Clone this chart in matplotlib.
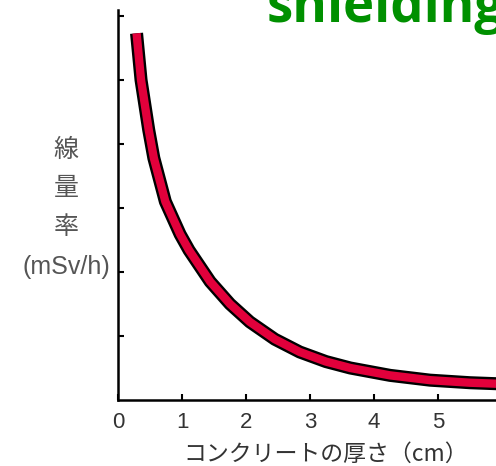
import matplotlib
matplotlib.use("Agg")
import matplotlib.pyplot as plt

plt.rcParams['font.family'] = ['Liberation Sans', 'Noto Sans CJK JP', 'DejaVu Sans']

# curve (thickness in cm, dose rate in tick units)
thickness = [0.29, 0.36, 0.48, 0.56, 0.74, 0.97, 1.11, 1.44, 1.75, 2.06, 2.45,
             2.84, 3.25, 3.63, 4.25, 4.875, 5.5, 6.3]
dose_rate = [5.73, 5.00, 4.22, 3.78, 3.10, 2.59, 2.34, 1.85, 1.50, 1.22, 0.95,
             0.75, 0.60, 0.50, 0.385, 0.31, 0.27, 0.24]

x_ticks = [0, 1, 2, 3, 4, 5, 6]
y_ticks = [1, 2, 3, 4, 5, 6]
ylabel_lines = ["線", "量", "率", "(mSv/h)"]
ylabel_y = [150, 188, 227, 267]   # pixel rows of each label line

W, H = 496, 466
fig = plt.figure(figsize=(W / 100, H / 100), dpi=100)

# axes run past the right edge of the figure, like the cropped original
left, bottom, right, top = 118, 66, 522, 456
ax = fig.add_axes([left / W, bottom / H, (right - left) / W, (top - bottom) / H])
ax.set_xlim(0, (right - left) / 64)
ax.set_ylim(0, (top - bottom) / 64)

# thick red line with black outline
ax.plot(thickness, dose_rate, color="black", lw=9.4, solid_capstyle="butt",
        solid_joinstyle="round", clip_on=False)
ax.plot(thickness, dose_rate, color="#e2003b", lw=6.0, solid_capstyle="butt",
        solid_joinstyle="round", clip_on=False)

for side in ["top", "right"]:
    ax.spines[side].set_visible(False)
for side in ["left", "bottom"]:
    ax.spines[side].set_linewidth(1.8)

ax.set_xticks(x_ticks)
ax.set_yticks(y_ticks)
ax.set_yticklabels([])
ax.tick_params(direction="in", length=4.5, width=1.5, colors="black")
ax.tick_params(axis="x", labelsize=16, labelcolor="#333333", pad=9)

ax.set_xlabel("コンクリートの厚さ（cm）", fontsize=16.5, color="#333333",
              family=['Noto Sans CJK JP', 'DejaVu Sans'])
ax.xaxis.label.set_va("center")
ax.xaxis.set_label_coords((326 - left) / (right - left), (H - 454 - bottom) / (top - bottom))

for line, py in zip(ylabel_lines, ylabel_y):
    fig.text(66 / W, 1 - py / H, line, ha="center", va="center",
             fontsize=18, color="#555555")

fig.text(267 / W, 1 - 22 / H, "shielding", ha="left", va="baseline",
         fontsize=38, fontweight="bold", color="#009000", family="Open Sans")

fig.savefig("out.png", dpi=100)
